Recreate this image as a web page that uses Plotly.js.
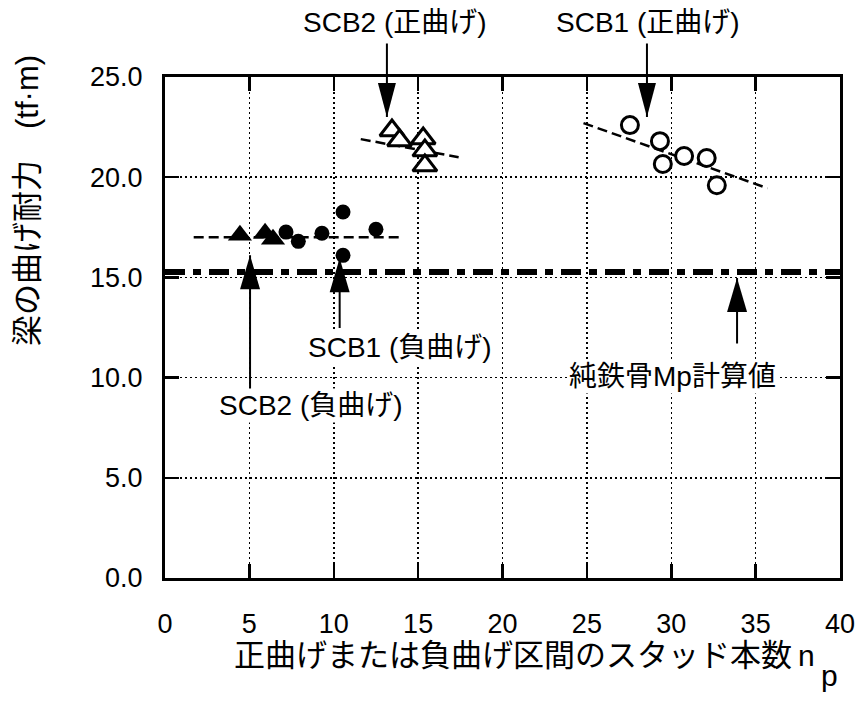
<!DOCTYPE html>
<html><head><meta charset="utf-8">
<script src="https://cdn.plot.ly/plotly-3.0.1.min.js"></script>
<style>html,body{margin:0;padding:0;background:#fff;}#chart{width:860px;height:709px;}</style>
</head><body><div id="chart"></div>
<script>
// ---- data ----
// SCB1 positive bending (open circles)
const scb1PosX = [27.55, 29.33, 29.5, 30.76, 32.1, 32.7];
const scb1PosY = [22.6, 21.8, 20.66, 21.06, 20.96, 19.6];
// SCB2 positive bending (open triangles)
const scb2PosX = [13.45, 13.9, 15.3, 15.4, 15.4];
const scb2PosY = [22.33, 21.83, 21.93, 21.33, 20.58];
// SCB1 negative bending (filled circles)
const scb1NegX = [7.17, 7.9, 9.3, 10.55, 10.55, 12.5];
const scb1NegY = [17.26, 16.8, 17.2, 18.26, 16.1, 17.4];
// SCB2 negative bending (filled triangles)
const scb2NegX = [4.44, 5.93, 6.4];
const scb2NegY = [17.1, 17.2, 16.9];
// trend lines
const negTrendX = [1.7, 13.9];
const negTrendY = [17.0, 17.0];
const scb2TrendX = [11.6, 17.4];
const scb2TrendY = [21.9, 21.0];
const scb1TrendX = [24.8, 35.7];
const scb1TrendY = [22.7, 19.45];
// pure steel Mp calculated value
const mpValue = 15.27;
const xRange = [0, 40];
const yRange = [0, 25];
// arrows (x, tip, tail, direction)
const arrowX = [13.15, 28.56, 5.04, 10.35, 33.9];
const arrowTip = [23.0, 23.0, 16.1, 15.95, 14.97];
const arrowTail = [26.75, 26.75, 9.23, 12.4, 11.63];
const arrowDir = ['down', 'down', 'up', 'up', 'up'];
// labels
const labelText = ['SCB2 (正曲げ)', 'SCB1 (正曲げ)', 'SCB1 (負曲げ)', 'SCB2 (負曲げ)', '純鉄骨Mp計算値'];
const labelX = [13.63, 28.62, 13.93, 8.65, 30.1];
const labelY = [27.74, 27.74, 11.48, 8.63, 10.03];
const labelBg = [false, false, true, true, true];

const FONT = 'Liberation Sans, Arial, Noto Sans CJK JP, sans-serif';

const traces = [
  {x: negTrendX, y: negTrendY, mode: 'lines', line: {color: 'black', width: 2.5, dash: '10px,5px'}, hoverinfo: 'skip'},
  {x: scb2TrendX, y: scb2TrendY, mode: 'lines', line: {color: 'black', width: 2.5, dash: '10px,5px'}, hoverinfo: 'skip'},
  {x: scb1TrendX, y: scb1TrendY, mode: 'lines', line: {color: 'black', width: 2.5, dash: '10px,5px'}, hoverinfo: 'skip'},
  {x: xRange, y: xRange.map(() => mpValue), mode: 'lines', line: {color: 'black', width: 6, dash: '20px,8px,8px,8px'}, hoverinfo: 'skip'},
  {x: scb2NegX, y: scb2NegY, mode: 'markers', marker: {symbol: 'triangle-up', size: 21, color: 'black'}},
  {x: scb1NegX, y: scb1NegY, mode: 'markers', marker: {symbol: 'circle', size: 15, color: 'black'}},
  {x: scb2PosX, y: scb2PosY, mode: 'markers', marker: {symbol: 'triangle-up', size: 21, color: 'white', line: {color: 'black', width: 3}}},
  {x: scb1PosX, y: scb1PosY, mode: 'markers', marker: {symbol: 'circle', size: 17, color: 'white', line: {color: 'black', width: 3}}}
];

const annotations = [];
const shapes = [];
arrowX.forEach((ax, i) => {
  annotations.push({x: ax, y: arrowTip[i], xref: 'x', yref: 'y', ax: ax, ay: arrowTail[i], axref: 'x', ayref: 'y',
    text: '', showarrow: true, arrowhead: 0, arrowwidth: 2, arrowcolor: 'black', standoff: 0, startstandoff: 0});
  shapes.push({type: 'path', xref: 'x', yref: 'y', xsizemode: 'pixel', ysizemode: 'pixel',
    xanchor: ax, yanchor: arrowTip[i],
    path: arrowDir[i] === 'down' ? 'M0,0L-9,34L9,34Z' : 'M0,0L-10,-34L10,-34Z',
    fillcolor: 'black', line: {width: 0}, layer: 'above'});
});
labelText.forEach((t, i) => {
  annotations.push({x: labelX[i], y: labelY[i] / yRange[1], xref: 'x', yref: 'paper', text: t, showarrow: false,
    xanchor: 'center', yanchor: 'middle', font: {size: 28, family: FONT, color: 'black'},
    bgcolor: labelBg[i] ? 'white' : 'rgba(0,0,0,0)', borderpad: 1});
});
// axis titles
annotations.push({x: 0.0993, y: -0.1537, xref: 'paper', yref: 'paper', xanchor: 'left', yanchor: 'middle', showarrow: false,
  text: '正曲げまたは負曲げ区間のスタッド本数', font: {size: 31, family: FONT, color: 'black'}});
annotations.push({x: 0.951, y: -0.1537, xref: 'paper', yref: 'paper', xanchor: 'center', yanchor: 'middle', showarrow: false,
  text: 'n', font: {size: 30, family: FONT, color: 'black'}});
annotations.push({x: 0.984, y: -0.1956, xref: 'paper', yref: 'paper', xanchor: 'center', yanchor: 'middle', showarrow: false,
  text: 'p', font: {size: 30, family: FONT, color: 'black'}});
annotations.push({x: -0.203, y: 0.7545, xref: 'paper', yref: 'paper', xanchor: 'center', yanchor: 'middle', showarrow: false,
  textangle: -90, text: '梁の曲げ耐力　(tf·m)', font: {size: 31, family: FONT, color: 'black'}});

const axisCommon = {
  dtick: 5, tick0: 0, ticks: 'inside', ticklen: 14, tickwidth: 2.5, tickcolor: 'black',
  showline: true, linewidth: 3, linecolor: 'black', mirror: 'ticks',
  showgrid: true, gridcolor: 'black', gridwidth: 1.5, griddash: '2px,3px', zeroline: false,
  tickfont: {size: 27, family: FONT, color: 'black'}, fixedrange: true
};

const layout = {
  width: 860, height: 709,
  margin: {l: 165, r: 20, t: 77, b: 131},
  paper_bgcolor: 'white', plot_bgcolor: 'white',
  showlegend: false,
  font: {family: FONT, color: 'black'},
  xaxis: Object.assign({}, axisCommon, {range: xRange, ticklabelstandoff: 20}),
  yaxis: Object.assign({}, axisCommon, {range: yRange, tickformat: '.1f', ticklabelstandoff: 14}),
  annotations: annotations,
  shapes: shapes
};

Plotly.newPlot('chart', traces, layout, {staticPlot: true, displayModeBar: false});
</script>
</body></html>
